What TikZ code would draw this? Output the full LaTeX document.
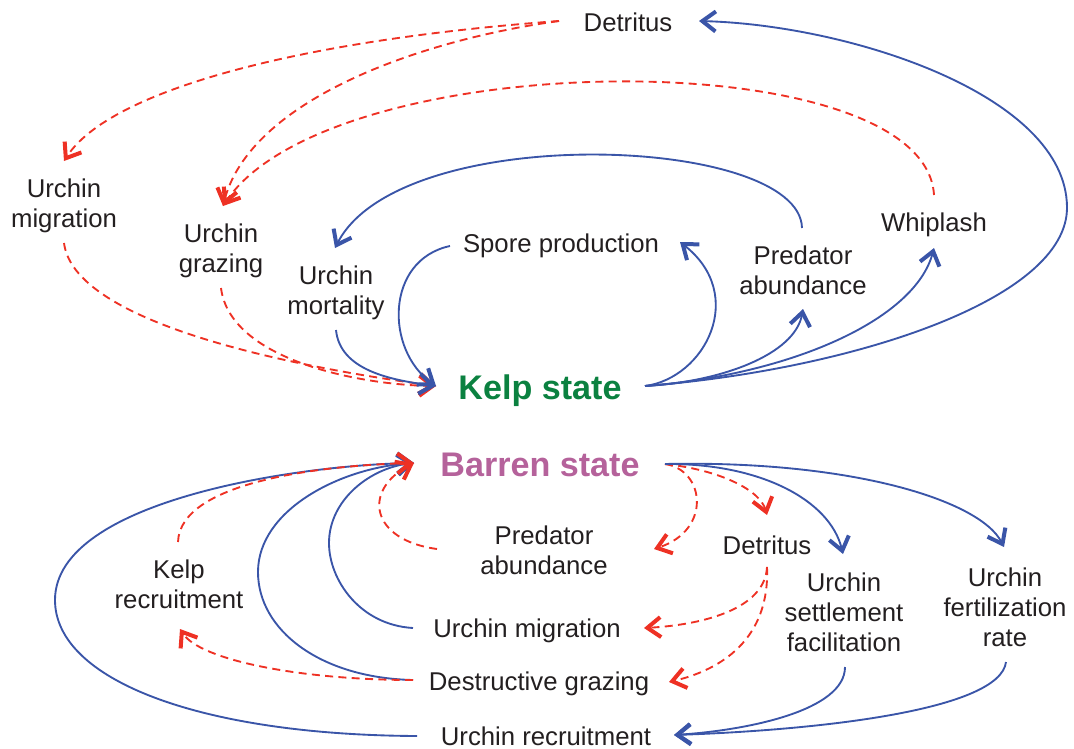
\documentclass[tikz,border=0pt]{standalone}
\usepackage{fontspec}
\setmainfont{Liberation Sans}
\usetikzlibrary{arrows.meta}
\definecolor{pos}{HTML}{3A55A8}
\definecolor{neg}{HTML}{EE3124}
\definecolor{kelpc}{HTML}{0B8140}
\definecolor{barrenc}{HTML}{B5629B}
\definecolor{txt}{HTML}{231F20}
\tikzset{
  lbl/.style={text=txt, align=center, inner sep=0pt, font=\fontsize{19.3}{22.5}\selectfont},
  statelbl/.style={inner sep=0pt, font=\fontsize{25.6}{30}\selectfont\bfseries},
  poslink/.style={draw=pos, line width=1.4pt, -{Straight Barb[length=10pt,width=15pt,line width=3pt]}},
  neglink/.style={draw=neg, line width=1.4pt, dash pattern=on 6pt off 4pt, -{Straight Barb[length=10pt,width=15pt,line width=3pt]}},
}
\begin{document}
\begin{tikzpicture}[x=0.75pt,y=-0.75pt]
\useasboundingbox (0,0) rectangle (1074,749);
% ---------- nodes ----------
\node[statelbl, text=kelpc] (kelp) at (540,391) {Kelp state};
\node[statelbl, text=barrenc] (barren) at (540,465) {Barren state};
\node[lbl] (detT) at (628,22) {Detritus};
\node[lbl] (umigT) at (64,206) {Urchin\\migration};
\node[lbl] (ugraz) at (221,251) {Urchin\\grazing};
\node[lbl] (umort) at (336,293) {Urchin\\mortality};
\node[lbl] (spore) at (561,246) {Spore production};
\node[lbl] (predT) at (803,270) {Predator\\abundance};
\node[lbl] (whip) at (934,225) {Whiplash};
\node[lbl] (predB) at (544,550) {Predator\\abundance};
\node[lbl] (detB) at (767,545) {Detritus};
\node[lbl] (usettle) at (844,612) {Urchin\\settlement\\facilitation};
\node[lbl] (ufert) at (1005,607) {Urchin\\fertilization\\rate};
\node[lbl] (krec) at (179,584) {Kelp\\recruitment};
\node[lbl] (umigB) at (527,631) {Urchin migration};
\node[lbl] (dgraz) at (539,684) {Destructive grazing};
\node[lbl] (urec) at (546,736) {Urchin recruitment};
% ---------- ports ----------
\coordinate (kelpIn) at (436,386);
\coordinate (kelpOut) at (645,386);
\coordinate (barIn) at (414,463);
\coordinate (barOut) at (665,464);
\coordinate (detTL) at (559,21);
\coordinate (detTR) at (699,21);
\coordinate (umigTtop) at (64,161);
\coordinate (umigTbot) at (64,243);
\coordinate (ugrazTop) at (223,206);
\coordinate (ugrazBot) at (221,288);
\coordinate (umortTop) at (335,248);
\coordinate (umortBot) at (336,330);
\coordinate (sporeL) at (450,246);
\coordinate (sporeR) at (680,242);
\coordinate (predTtop) at (802,228);
\coordinate (predTbot) at (803,309);
\coordinate (whipTop) at (934,195);
\coordinate (whipBot) at (934,248);
\coordinate (predBL) at (437,549);
\coordinate (predBR) at (654,549);
\coordinate (detBtop) at (767,515);
\coordinate (detBbot) at (767,567);
\coordinate (settleTop) at (843,554);
\coordinate (settleBot) at (845,667);
\coordinate (fertTop) at (1004,547);
\coordinate (fertBot) at (1006,662);
\coordinate (krecTop) at (178,542);
\coordinate (krecBot) at (180,629);
\coordinate (umigBL) at (413,628);
\coordinate (umigBR) at (644,628);
\coordinate (dgrazL) at (413,680);
\coordinate (dgrazR) at (669,682);
\coordinate (urecL) at (417,736);
\coordinate (urecR) at (674,735);
% ---------- kelp state (top) ----------
\draw[neglink] (detTL) .. controls (300,40) and (110,90) .. (umigTtop);
\draw[neglink] (detTL) .. controls (420,40) and (250,100) .. (ugrazTop);
\draw[neglink] (whipTop) .. controls (925,40) and (330,45) .. (ugrazTop);
\draw[neglink] (umigTbot) .. controls (75,330) and (330,372) .. (kelpIn);
\draw[neglink] (ugrazBot) .. controls (230,360) and (360,385) .. (kelpIn);
\draw[poslink] (predTtop) .. controls (800,135) and (400,120) .. (umortTop);
\draw[poslink] (kelpOut) .. controls (705,378) and (748,295) .. (sporeR);
\draw[poslink] (sporeL) .. controls (385,260) and (385,350) .. (kelpIn);
\draw[poslink] (umortBot) .. controls (340,370) and (390,380) .. (kelpIn);
\draw[poslink] (kelpOut) .. controls (720,382) and (795,355) .. (predTbot);
\draw[poslink] (kelpOut) .. controls (790,375) and (915,320) .. (whipBot);
\draw[poslink] (kelpOut) .. controls (850,370) and (1068,300) .. (1067,207)
                          .. controls (1066,95) and (850,25) .. (detTR);
% ---------- barren state (bottom) ----------
\draw[poslink] (urecL) .. controls (200,735) and (55,680) .. (55,600)
                       .. controls (55,500) and (300,465) .. (barIn);
\draw[poslink] (dgrazL) .. controls (320,678) and (258,630) .. (258,572)
                        .. controls (258,510) and (340,468) .. (barIn);
\draw[poslink] (umigBL) .. controls (360,625) and (329,580) .. (329,543)
                        .. controls (329,500) and (370,468) .. (barIn);
\draw[neglink] (krecTop) .. controls (180,480) and (330,465) .. (barIn);
\draw[neglink] (dgrazL) .. controls (300,680) and (200,660) .. (krecBot);
\draw[neglink] (predBL) .. controls (370,540) and (362,490) .. (barIn);
\draw[neglink] (barOut) .. controls (705,470) and (712,530) .. (predBR);
\draw[neglink] (barOut) .. controls (720,470) and (760,490) .. (detBtop);
\draw[poslink] (barOut) .. controls (760,463) and (830,500) .. (settleTop);
\draw[poslink] (barOut) .. controls (850,460) and (980,500) .. (fertTop);
\draw[neglink] (detBbot) .. controls (765,610) and (700,625) .. (umigBR);
\draw[neglink] (detBbot) .. controls (770,640) and (720,670) .. (dgrazR);
\draw[poslink] (settleBot) .. controls (845,710) and (750,730) .. (urecR);
\draw[poslink] (fertBot) .. controls (1000,710) and (820,730) .. (urecR);
\end{tikzpicture}
\end{document}
